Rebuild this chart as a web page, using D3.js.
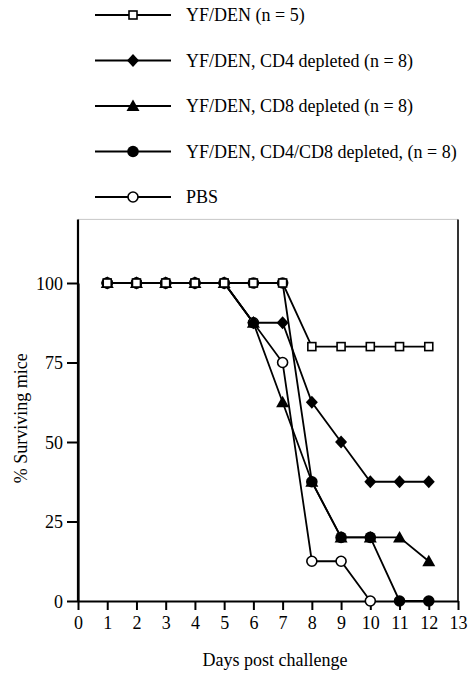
<!DOCTYPE html>
<html>
<head>
<meta charset="utf-8">
<script src="https://cdn.jsdelivr.net/npm/d3@7"></script>
<style>
  body { margin: 0; background: #fff; }
  text { font-family: "Liberation Serif", "Times New Roman", Times, serif; fill: #000; }
</style>
</head>
<body>
<div id="chart"></div>
<script>
// survival data
const days = [1, 2, 3, 4, 5, 6, 7, 8, 9, 10, 11, 12];
const yfDen = [100, 100, 100, 100, 100, 100, 100, 80, 80, 80, 80, 80];
const cd4Depleted = [100, 100, 100, 100, 100, 87.5, 87.5, 62.5, 50, 37.5, 37.5, 37.5];
const cd8Depleted = [100, 100, 100, 100, 100, 87.5, 62.5, 37.5, 20, 20, 20, 12.5];
const cd4cd8Depleted = [100, 100, 100, 100, 100, 100, 100, 37.5, 20, 20, 0, 0];
const pbs = [100, 100, 100, 100, 100, 87.5, 75, 12.5, 12.5, 0];

const legendLabels = [
  'YF/DEN (n = 5)',
  'YF/DEN, CD4 depleted (n = 8)',
  'YF/DEN, CD8 depleted (n = 8)',
  'YF/DEN, CD4/CD8 depleted, (n = 8)',
  'PBS'
];
const xTicks = [0, 1, 2, 3, 4, 5, 6, 7, 8, 9, 10, 11, 12, 13];
const yTicks = [0, 25, 50, 75, 100];

(() => {
  const w = 468;
  const h = 674;
  const font = '"Liberation Serif", "Times New Roman", Times, serif';

  const x = d3.scaleLinear().domain([0, 13]).range([78, 458]);
  const y = d3.scaleLinear().domain([0, 100]).range([601, 283]);

  const svg = d3.select('#chart')
    .append('svg')
    .attr('width', w)
    .attr('height', h);

  // legend order == series order
  const series = [
    { values: yfDen, marker: 'square' },
    { values: cd4Depleted, marker: 'diamond' },
    { values: cd8Depleted, marker: 'triangle' },
    { values: cd4cd8Depleted, marker: 'dot' },
    { values: pbs, marker: 'circle' }
  ].map((s, i) => Object.assign(s, { label: legendLabels[i] }));

  function drawMarker(g, type) {
    if (type === 'square') {
      g.append('rect')
        .attr('x', -4).attr('y', -4)
        .attr('width', 8).attr('height', 8)
        .attr('fill', '#fff').attr('stroke', '#000').attr('stroke-width', 1.6);
    } else if (type === 'diamond') {
      g.append('path')
        .attr('d', 'M0,-6.5L6,0L0,6.5L-6,0Z')
        .attr('fill', '#000');
    } else if (type === 'triangle') {
      g.append('path')
        .attr('d', 'M0,-6.5L6.5,5L-6.5,5Z')
        .attr('fill', '#000');
    } else if (type === 'dot') {
      g.append('circle').attr('r', 5.8).attr('fill', '#000');
    } else {
      g.append('circle').attr('r', 5)
        .attr('fill', '#fff').attr('stroke', '#000').attr('stroke-width', 1.6);
    }
  }

  // legend
  const legend = svg.append('g');
  series.forEach((s, i) => {
    const ly = 15 + i * 45.5;
    const row = legend.append('g').attr('transform', `translate(0,${ly})`);
    row.append('line')
      .attr('x1', 95).attr('x2', 171)
      .attr('stroke', '#000').attr('stroke-width', 1.8);
    drawMarker(row.append('g').attr('transform', 'translate(133,0)'), s.marker);
    row.append('text')
      .attr('x', 186).attr('y', 6)
      .style('font-family', font)
      .style('font-size', '18px')
      .text(s.label);
  });

  // frame
  svg.append('line')
    .attr('x1', x(0)).attr('x2', x(13))
    .attr('y1', y(120)).attr('y2', y(120))
    .attr('stroke', '#c8c8c8').attr('stroke-width', 1);
  svg.append('line')
    .attr('x1', x(0)).attr('x2', x(0))
    .attr('y1', y(120)).attr('y2', y(0))
    .attr('stroke', '#000').attr('stroke-width', 2.2);
  svg.append('line')
    .attr('x1', x(13)).attr('x2', x(13))
    .attr('y1', y(120)).attr('y2', y(0))
    .attr('stroke', '#000').attr('stroke-width', 1.6);

  const xAxis = svg.append('g')
    .attr('transform', `translate(0,${y(0)})`)
    .call(d3.axisBottom(x).tickValues(xTicks).tickSize(9).tickSizeOuter(0).tickPadding(6));
  const yAxis = svg.append('g')
    .attr('transform', `translate(${x(0)},0)`)
    .call(d3.axisLeft(y).tickValues(yTicks).tickSize(11).tickSizeOuter(0).tickPadding(4));

  [xAxis, yAxis].forEach((a) => {
    a.attr('font-family', null).attr('font-size', null);
    a.select('.domain').attr('stroke-width', 2.2);
    a.selectAll('.tick line').attr('stroke-width', 2);
    a.selectAll('.tick text')
      .style('font-family', font)
      .style('font-size', '18px')
      .attr('fill', '#000');
  });
  yAxis.selectAll('.tick text').attr('dy', '0.34em');

  svg.append('text')
    .attr('text-anchor', 'middle')
    .attr('x', (x(0) + x(13)) / 2 + 7)
    .attr('y', 666)
    .style('font-family', font)
    .style('font-size', '18px')
    .text('Days post challenge');

  svg.append('text')
    .attr('text-anchor', 'middle')
    .attr('transform', `translate(27,${(y(0) + y(120)) / 2 + 8}) rotate(-90)`)
    .style('font-family', font)
    .style('font-size', '18px')
    .text('% Surviving mice');

  // lines first, then markers on top (squares last)
  const line = d3.line()
    .x((d, i) => x(days[i]))
    .y(d => y(d));

  const drawOrder = [4, 3, 2, 1, 0];
  drawOrder.forEach((k) => {
    svg.append('path')
      .datum(series[k].values)
      .attr('d', line)
      .attr('fill', 'none')
      .attr('stroke', '#000')
      .attr('stroke-width', 1.8);
  });
  drawOrder.forEach((k) => {
    const s = series[k];
    s.values.forEach((v, i) => {
      drawMarker(svg.append('g')
        .attr('transform', `translate(${x(days[i])},${y(v)})`), s.marker);
    });
  });
})();
</script>
</body>
</html>
